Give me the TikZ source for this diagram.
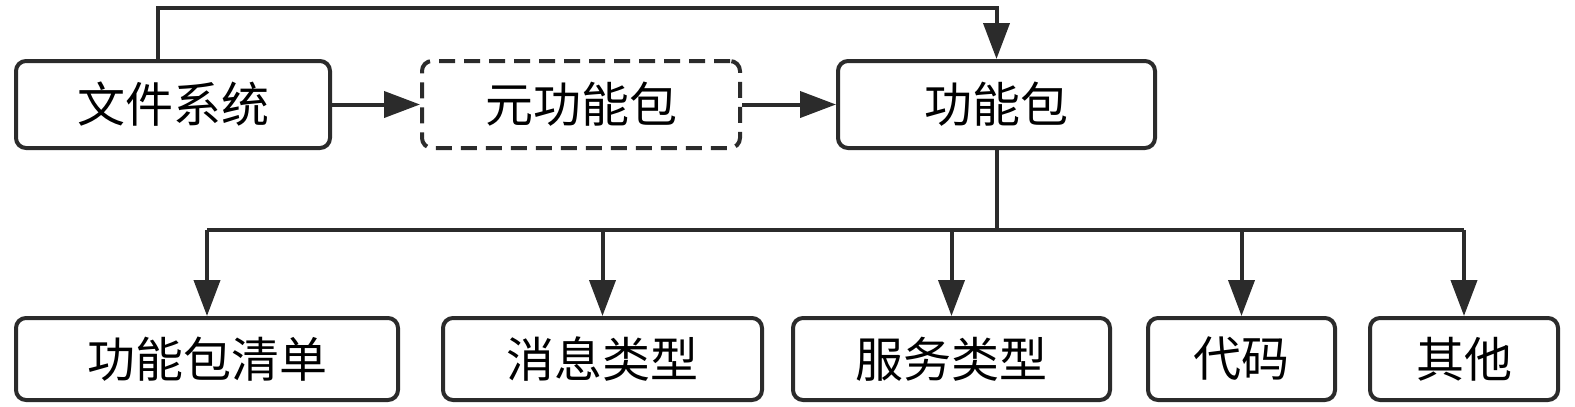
\documentclass[tikz,border=0pt]{standalone}
\usepackage{fontspec}
\newfontfamily\cjk{Noto Sans CJK SC}
\usetikzlibrary{arrows.meta}
\definecolor{ink}{HTML}{2B2B2B}
\begin{document}
\begin{tikzpicture}[x=1pt,y=-1pt,
  box/.style={draw=ink,line width=4pt,rounded corners=10pt,inner sep=0pt,
    minimum height=#1,font=\cjk\fontsize{48}{56}\selectfont,text=black},
  box/.default=87pt,
  dbox/.style={box,dash pattern=on 16pt off 9pt},
  link/.style={draw=ink,line width=4pt},
  arr/.style={link,-{Triangle[length=36pt,width=26pt]}}]
\useasboundingbox (0,0) rectangle (1575,407);
% top row
\node[box,minimum width=314pt] (fs) at (173,104.5) {文件系统};
\node[dbox,minimum width=318pt] (meta) at (581,104.5) {元功能包};
\node[box,minimum width=317pt] (pkg) at (996.5,104.5) {功能包};
% bottom row
\node[box=82pt,minimum width=382pt] (b1) at (207,359) {功能包清单};
\node[box=82pt,minimum width=319pt] (b2) at (602.5,359) {消息类型};
\node[box=82pt,minimum width=317pt] (b3) at (951.5,359) {服务类型};
\node[box=82pt,minimum width=187pt] (b4) at (1241.5,359) {代码};
\node[box=82pt,minimum width=188pt] (b5) at (1464,359) {其他};
% connectors
\coordinate (t1) at (158,8);
\coordinate (t2) at (pkg.north |- t1);
\draw[arr] (fs.north -| t1) -- (t1) -- (t2) -- (pkg.north);
\draw[arr] (fs.east) -- (meta.west);
\draw[arr] (meta.east) -- (pkg.west);
\coordinate (hub) at (pkg.south |- 0,230);
\draw[link] (pkg.south) -- (hub);
\draw[link] (b1.north |- hub) -- (b5.north |- hub);
\foreach \b in {b1,b2,b3,b4,b5}
  \draw[arr] (\b.north |- hub) -- (\b.north);
\end{tikzpicture}
\end{document}
